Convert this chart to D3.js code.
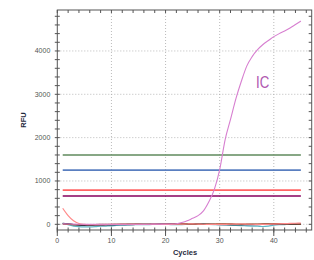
<!DOCTYPE html>
<html>
<head>
<meta charset="utf-8">
<script src="https://cdn.jsdelivr.net/npm/d3@7"></script>
<style>
  body { margin: 0; background: #fff; }
  svg { display: block; font-family: "Liberation Sans", Arial, sans-serif; }
</style>
</head>
<body>
<div class="chart"></div>
<script>
var width = 314,
    height = 260,
    margin = {top: 10, right: 2.3, bottom: 30, left: 57.3};

var cycles = d3.range(1, 46);

// IC amplification curve (RFU per cycle)
var ic_vals = [10, 8, 5, 3, 2, 0, 0, 2, 3, 2, 0, 0, 2, 3, 2, 2, 3, 4, 5, 6,
  8, 15, 40, 80, 140, 200, 310, 520, 800, 1260, 1950, 2420, 2900, 3300, 3650,
  3870, 4030, 4150, 4240, 4330, 4400, 4460, 4530, 4610, 4690];

// background traces near zero
var salmon_vals = [370, 200, 80, 20, 0, -5, -5, -8, -5, -3, 0, 0, 2, 0, -2, 0, 2, 3, 2, 0,
  0, 2, 5, 8, 10, 5, 2, 0, -2, -3, 0, 2, 5, 8, 5, 2, 0, -2, 0, 5, 10, 15, 20, 25, 30];
var teal_vals = [20, -10, -40, -55, -60, -60, -55, -45, -40, -35, -25, -20, -15, -10, -8, -5, -5, 0, 2, 0,
  -5, -8, -5, 0, 5, 8, 5, 0, -5, -10, -15, -20, -25, -30, -35, -40, -45, -50, -40, -20, -10, -5, 0, 2, 0];
var navy_vals = [25, 10, -5, -20, -25, -25, -20, -20, -15, -15, -10, -10, -5, -5, 0, 0, 2, 3, 5, 8,
  10, 12, 10, 8, 5, 5, 3, 0, -3, -5, -5, -8, -10, -10, -8, -5, -5, -3, 0, 0, 2, 3, 5, 5, 5];
var green_vals = [15, 5, -10, -15, -20, -15, -10, -10, -5, -5, 0, 0, 3, 5, 5, 5, 8, 10, 10, 12,
  15, 15, 12, 10, 8, 5, 5, 3, 0, 0, -3, -5, -5, -5, -3, 0, 0, 2, 3, 5, 5, 3, 2, 0, 0];
var brown_vals = [5, 0, -5, -8, -10, -8, -5, -3, 0, 0, 2, 3, 5, 5, 3, 2, 0, 0, 2, 5,
  8, 10, 10, 8, 5, 3, 2, 5, 8, 10, 12, 10, 8, 5, 3, 5, 8, 10, 12, 15, 15, 12, 10, 8, 5];

var noise = [
  {vals: teal_vals, color: "#5fb4c4"},
  {vals: green_vals, color: "#3f7a55"},
  {vals: navy_vals, color: "#23304f"},
  {vals: brown_vals, color: "#9a4a2a"},
  {vals: salmon_vals, color: "#ff8a8a"}
];

// threshold lines
var thr_vals = [1600, 1250, 790, 655];
var thr_colors = ["#5f8a5c", "#5a7fc0", "#ff6464", "#86005e"];

var x_ticks = [0, 10, 20, 30, 40];
var y_ticks = [0, 1000, 2000, 3000, 4000];

var svg = d3.select('.chart').append("svg")
    .attr("width", width)
    .attr("height", height);

var x = d3.scaleLinear().domain([0, 47]).range([margin.left, width - margin.right]);
var y = d3.scaleLinear().domain([-131, 4945]).range([height - margin.bottom, margin.top]);

var x0 = x.range()[0], x1 = x.range()[1];
var y0 = y.range()[0], y1 = y.range()[1];

// dotted grid
var grid = svg.append("g").attr("stroke", "#aaa").attr("stroke-dasharray", "1,2").attr("stroke-width", 0.8);
grid.selectAll(".gx").data(x_ticks.slice(1)).enter().append("line")
    .attr("x1", function(d) { return x(d); }).attr("x2", function(d) { return x(d); })
    .attr("y1", y0).attr("y2", y1);
grid.selectAll(".gy").data(y_ticks).enter().append("line")
    .attr("y1", function(d) { return y(d); }).attr("y2", function(d) { return y(d); })
    .attr("x1", x0).attr("x2", x1);

var line = d3.line()
    .x(function(d, i) { return x(cycles[i]); })
    .y(function(d) { return y(d); })
    .curve(d3.curveMonotoneX);

// thresholds
svg.selectAll(".thr").data(thr_vals).enter().append("line")
    .attr("x1", x(cycles[0])).attr("x2", x(cycles[cycles.length - 1]))
    .attr("y1", function(d) { return y(d); }).attr("y2", function(d) { return y(d); })
    .attr("stroke", function(d, i) { return thr_colors[i]; })
    .attr("stroke-width", 1.6);

// background traces
svg.selectAll(".noise").data(noise).enter().append("path")
    .attr("d", function(d) { return line(d.vals); })
    .attr("fill", "none")
    .attr("stroke", function(d) { return d.color; })
    .attr("stroke-width", 1.2);

// IC curve
svg.append("path")
    .attr("d", line(ic_vals))
    .attr("fill", "none")
    .attr("stroke", "#d77fd0")
    .attr("stroke-width", 1.1);

// narrow label: squeeze horizontally
svg.append("text")
    .attr("transform", "translate(256,87.5) scale(0.78,1)")
    .attr("fill", "#b058b0")
    .style("font-size", "17px")
    .text("IC");

// frame
svg.append("rect")
    .attr("x", x0).attr("y", y1)
    .attr("width", x1 - x0).attr("height", y0 - y1)
    .attr("fill", "none").attr("stroke", "#555").attr("stroke-width", 1);

var ax = svg.append("g").attr("stroke", "#555").attr("stroke-width", 1);
var x_minor = d3.range(0, 47, 2);
var y_minor = d3.range(0, 4945, 200);

// bottom ticks: minor crossing, major longer
ax.selectAll(".bx").data(x_minor).enter().append("line")
    .attr("x1", function(d) { return x(d); }).attr("x2", function(d) { return x(d); })
    .attr("y1", y0 - 2.5).attr("y2", y0 + 2.5);
ax.selectAll(".bxm").data(x_ticks).enter().append("line")
    .attr("x1", function(d) { return x(d); }).attr("x2", function(d) { return x(d); })
    .attr("y1", y0 - 2.5).attr("y2", y0 + 6);
// top ticks
ax.selectAll(".tx").data(x_minor).enter().append("line")
    .attr("x1", function(d) { return x(d); }).attr("x2", function(d) { return x(d); })
    .attr("y1", y1).attr("y2", y1 + 3);
// left ticks
ax.selectAll(".ly").data(y_minor).enter().append("line")
    .attr("y1", function(d) { return y(d); }).attr("y2", function(d) { return y(d); })
    .attr("x1", x0 - 2.5).attr("x2", x0 + 2.5);
// right ticks
ax.selectAll(".ry").data(y_minor).enter().append("line")
    .attr("y1", function(d) { return y(d); }).attr("y2", function(d) { return y(d); })
    .attr("x1", x1 - 3).attr("x2", x1);

// tick labels
svg.selectAll(".ylab").data(y_ticks).enter().append("text")
    .attr("x", x0 - 7).attr("y", function(d) { return y(d) + 2.5; })
    .attr("text-anchor", "end")
    .attr("fill", "#555")
    .style("font-size", "7px")
    .text(function(d) { return d; });
svg.selectAll(".xlab").data(x_ticks).enter().append("text")
    .attr("x", function(d) { return x(d); }).attr("y", y0 + 13)
    .attr("text-anchor", "middle")
    .attr("fill", "#555")
    .style("font-size", "7px")
    .text(function(d) { return d; });

svg.append("text")
    .attr("x", (x0 + x1) / 2 + 0.5).attr("y", 255)
    .attr("text-anchor", "middle")
    .attr("fill", "#1f2a3c")
    .style("font-size", "7.5px").style("font-weight", "bold")
    .text("Cycles");

svg.append("text")
    .attr("transform", "translate(26," + ((y0 + y1) / 2) + ") rotate(-90)")
    .attr("text-anchor", "middle")
    .attr("fill", "#1f2a3c")
    .style("font-size", "7.5px").style("font-weight", "bold")
    .text("RFU");
</script>
</body>
</html>
